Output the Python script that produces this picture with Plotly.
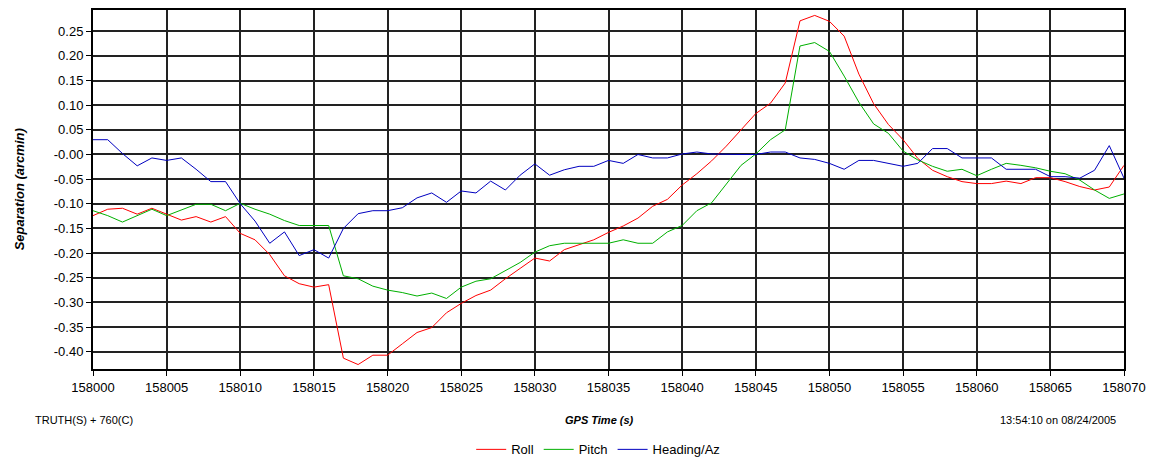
import plotly.graph_objects as go

# GPS time, one sample per second
gps_time = list(range(158000, 158071))

roll = [
    -0.124, -0.111, -0.109, -0.121, -0.109, -0.121, -0.133, -0.126, -0.137, -0.126,
    -0.160, -0.173, -0.203, -0.246, -0.262, -0.269, -0.264, -0.413, -0.426, -0.407,
    -0.407, -0.384, -0.361, -0.351, -0.321, -0.302, -0.286, -0.275, -0.252, -0.231,
    -0.210, -0.216, -0.193, -0.183, -0.173, -0.158, -0.145, -0.129, -0.105, -0.091,
    -0.062, -0.039, -0.013, 0.017, 0.050, 0.083, 0.104, 0.145, 0.271, 0.282,
    0.270, 0.240, 0.163, 0.103, 0.061, 0.030, -0.008, -0.032, -0.045, -0.055,
    -0.059, -0.059, -0.054, -0.059, -0.047, -0.047, -0.055, -0.065, -0.072, -0.066,
    -0.022,
]

pitch = [
    -0.114, -0.124, -0.137, -0.124, -0.111, -0.124, -0.113, -0.101, -0.101, -0.114,
    -0.099, -0.111, -0.121, -0.134, -0.144, -0.144, -0.144, -0.246, -0.252, -0.267,
    -0.275, -0.280, -0.287, -0.281, -0.292, -0.269, -0.257, -0.252, -0.236, -0.219,
    -0.198, -0.185, -0.180, -0.180, -0.180, -0.180, -0.173, -0.180, -0.180, -0.157,
    -0.144, -0.114, -0.098, -0.059, -0.022, 0.001, 0.030, 0.050, 0.220, 0.227,
    0.209, 0.159, 0.106, 0.062, 0.043, 0.007, -0.011, -0.024, -0.034, -0.030,
    -0.043, -0.030, -0.018, -0.022, -0.027, -0.034, -0.039, -0.052, -0.072, -0.089,
    -0.080,
]

heading = [
    0.030, 0.030, 0.002, -0.023, -0.007, -0.012, -0.007, -0.030, -0.055, -0.055,
    -0.100, -0.135, -0.180, -0.157, -0.205, -0.193, -0.210, -0.150, -0.120, -0.114,
    -0.114, -0.108, -0.088, -0.078, -0.097, -0.074, -0.078, -0.054, -0.072, -0.042,
    -0.019, -0.042, -0.031, -0.024, -0.024, -0.012, -0.018, 0.000, -0.007, -0.007,
    0.001, 0.005, 0.001, 0.000, 0.000, 0.000, 0.005, 0.005, -0.007, -0.010,
    -0.018, -0.030, -0.012, -0.012, -0.018, -0.024, -0.018, 0.012, 0.012, -0.007,
    -0.007, -0.007, -0.030, -0.030, -0.030, -0.045, -0.045, -0.048, -0.032, 0.018,
    -0.048,
]

x_ticks = list(range(158000, 158071, 5))
y_ticks = [0.25, 0.20, 0.15, 0.10, 0.05, 0.00, -0.05, -0.10, -0.15, -0.20,
           -0.25, -0.30, -0.35, -0.40]
y_tick_labels = ["0.25", "0.20", "0.15", "0.10", "0.05", "-0.00", "-0.05", "-0.10",
                 "-0.15", "-0.20", "-0.25", "-0.30", "-0.35", "-0.40"]

FONT = "Liberation Sans, Arial, sans-serif"

fig = go.Figure()
for name, values, color in [
    ("Roll", roll, "#ff0000"),
    ("Pitch", pitch, "#00b000"),
    ("Heading/Az", heading, "#0000c0"),
]:
    fig.add_trace(go.Scatter(
        x=gps_time, y=values, name=name, mode="lines",
        line=dict(color=color, width=1),
    ))

axis_style = dict(
    showgrid=True, gridcolor="#222222", gridwidth=1.5,
    showline=True, linecolor="black", linewidth=2, mirror=True,
    ticks="outside", ticklen=5, tickcolor="black", tickwidth=1,
    zeroline=False, tickfont=dict(size=13),
)

fig.update_layout(
    width=1154, height=472,
    margin=dict(l=93, r=30, t=8, b=94),
    paper_bgcolor="white", plot_bgcolor="white",
    font=dict(family=FONT, size=12, color="black"),
    showlegend=True,
    legend=dict(
        orientation="h", x=0.49, xanchor="center", y=-0.224, yanchor="middle",
        font=dict(size=13, family=FONT), itemwidth=30,
        bgcolor="rgba(0,0,0,0)", tracegroupgap=0,
    ),
    xaxis=dict(range=[158000, 158070], tickvals=x_ticks, tickformat="d", **axis_style),
    yaxis=dict(range=[-0.435, 0.293], tickvals=y_ticks, ticktext=y_tick_labels,
               **axis_style),
)

fig.add_annotation(
    text="<b><i>Separation (arcmin)</i></b>", xref="paper", yref="paper",
    x=-0.071, y=0.5, textangle=-90, showarrow=False,
    font=dict(size=13, family=FONT), xanchor="center", yanchor="middle",
)
fig.add_annotation(
    text="<b><i>GPS Time (s)</i></b>", xref="paper", yref="paper",
    x=0.491, y=-0.141, showarrow=False,
    font=dict(size=11, family=FONT), xanchor="center", yanchor="middle",
)
fig.add_annotation(
    text="TRUTH(S) + 760(C)", xref="paper", yref="paper",
    x=-0.058, y=-0.141, showarrow=False,
    font=dict(size=11, family=FONT), xanchor="left", yanchor="middle",
)
fig.add_annotation(
    text="13:54:10 on 08/24/2005", xref="paper", yref="paper",
    x=0.994, y=-0.141, showarrow=False,
    font=dict(size=11, family=FONT), xanchor="right", yanchor="middle",
)

fig.write_html("out.html")
